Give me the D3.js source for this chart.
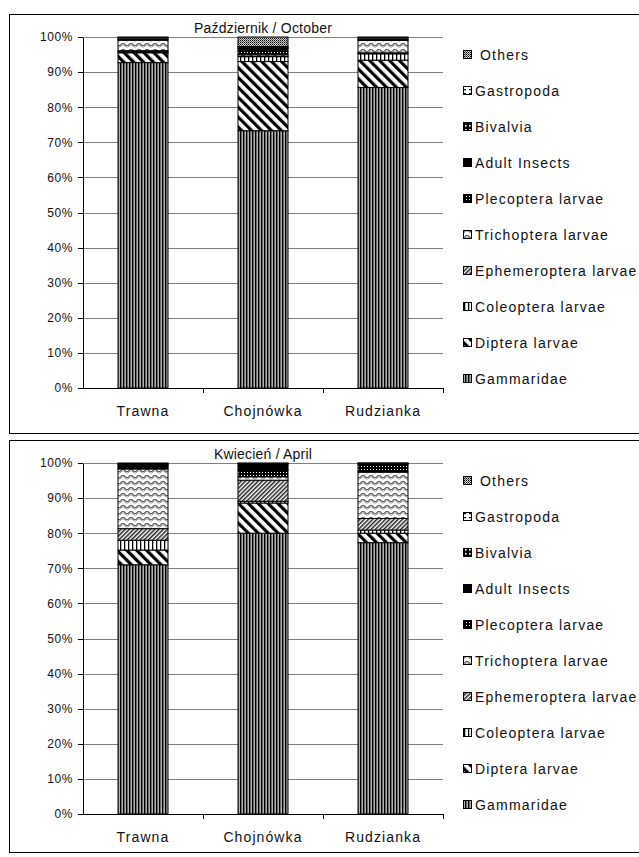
<!DOCTYPE html>
<html>
<head>
<meta charset="utf-8" />
<title>Macroinvertebrate composition</title>
<style>
  body { margin: 0; background: #fff; }
  svg { font-family: "Liberation Sans", Arial, sans-serif; }
  .grid line { stroke: #808080; stroke-width: 1px; shape-rendering: crispEdges; }
  .grid path { display: none; }
  .axis path, .axis line { stroke: #000; shape-rendering: crispEdges; }
  .axis text { font-size: 12px; fill: #111; letter-spacing: 0.6px; }
  .x.axis text { font-size: 14px; letter-spacing: 1.1px; }
  .legend text { font-size: 14px; letter-spacing: 1.2px; fill: #111; }
  .title { font-size: 14px; letter-spacing: 0.2px; fill: #111; }
</style>
</head>
<body>
<div id="chart"></div>
<script src="https://cdn.jsdelivr.net/npm/d3@7"></script>
<script>
// stacking order, bottom to top
var taxa = ["Gammaridae", "Diptera larvae", "Coleoptera larvae", "Ephemeroptera larvae",
            "Trichoptera larvae", "Plecoptera larvae", "Adult Insects", "Bivalvia", "Gastropoda", "Others"];
var sites = ["Trawna", "Chojnówka", "Rudzianka"];
var yTicks = [0, 10, 20, 30, 40, 50, 60, 70, 80, 90, 100];

// percentages per site, same order as taxa
var octTrawna     = [92.7, 2.8, 0.3, 0.3, 3.0, 0.0, 0.2, 0.0, 0.4, 0.3];
var octChojnowka  = [73.3, 19.7, 1.4, 0.2, 0.5, 0.8, 0.8, 0.3, 0.3, 2.7];
var octRudzianka  = [85.6, 7.8, 1.8, 0.3, 3.5, 0.0, 0.3, 0.0, 0.4, 0.3];

var aprTrawna     = [71.0, 4.2, 2.8, 3.3, 17.0, 0.5, 0.5, 0.3, 0.2, 0.2];
var aprChojnowka  = [80.0, 8.6, 0.5, 6.0, 1.0, 2.0, 1.2, 0.5, 0.1, 0.1];
var aprRudzianka  = [77.3, 2.7, 0.9, 3.3, 13.2, 2.2, 0.2, 0.1, 0.05, 0.05];

var panels = [
  { title: "Październik / October", top: 14, height: 419, values: [octTrawna, octChojnowka, octRudzianka] },
  { title: "Kwiecień / April",       top: 440, height: 412, values: [aprTrawna, aprChojnowka, aprRudzianka] }
];

var width = 639, height = 857;
var plotLeft = 83, plotRight = 443, plotH = 351, plotOffset = 23;

var svg = d3.select("#chart").append("svg")
    .attr("width", width)
    .attr("height", height);

// ---- fill patterns ----
var defs = svg.append("defs");
function pat(id, w, h, transform) {
  var p = defs.append("pattern").attr("id", id)
      .attr("patternUnits", "userSpaceOnUse")
      .attr("width", w).attr("height", h);
  if (transform) p.attr("patternTransform", transform);
  return p;
}
var p;
// Gammaridae: dense vertical lines, dark grey overall
p = pat("p0", 3, 3);
p.append("rect").attr("width", 3).attr("height", 3).attr("fill", "#b0b0b0");
p.append("rect").attr("width", 1).attr("height", 3).attr("fill", "#000");
p.append("rect").attr("x", 1).attr("width", 1).attr("height", 3).attr("fill", "#6a6a6a");
// Diptera: wide backslash stripes
p = pat("p1", 7, 7, "rotate(-45)");
p.append("rect").attr("width", 7).attr("height", 7).attr("fill", "#fff");
p.append("rect").attr("width", 3.2).attr("height", 7).attr("fill", "#000");
// Coleoptera: sparse vertical lines
p = pat("p2", 4, 4);
p.append("rect").attr("width", 4).attr("height", 4).attr("fill", "#fff");
p.append("rect").attr("width", 1.3).attr("height", 4).attr("fill", "#000");
// Ephemeroptera: fine slash stripes
p = pat("p3", 3, 3, "rotate(45)");
p.append("rect").attr("width", 3).attr("height", 3).attr("fill", "#fff");
p.append("rect").attr("width", 1.5).attr("height", 3).attr("fill", "#222");
// Trichoptera: zigzag waves
p = pat("p4", 8, 6);
p.append("rect").attr("width", 8).attr("height", 6).attr("fill", "#fff");
p.append("path").attr("d", "M0,3.5 L2,1.5 L4,1.5 L6,3.5 L8,3.5")
  .attr("fill", "none").attr("stroke", "#5e5e5e").attr("stroke-width", 1.2);
p.append("path").attr("d", "M0,5 L2,3 L4,3 L6,5 L8,5")
  .attr("fill", "none").attr("stroke", "#909090").attr("stroke-width", 0.9);
// Plecoptera: black with dense white dots
p = pat("p5", 3, 3);
p.append("rect").attr("width", 3).attr("height", 3).attr("fill", "#000");
p.append("rect").attr("x", 1).attr("y", 1).attr("width", 1).attr("height", 1).attr("fill", "#fff");
// Adult insects: solid black -> plain fill
// Bivalvia: white squares on black
p = pat("p7", 4, 4);
p.append("rect").attr("width", 4).attr("height", 4).attr("fill", "#000");
p.append("rect").attr("x", 1).attr("y", 1).attr("width", 1.6).attr("height", 1.6).attr("fill", "#fff");
// Gastropoda: white with small dashes
p = pat("p8", 6, 4);
p.append("rect").attr("width", 6).attr("height", 4).attr("fill", "#fff");
p.append("rect").attr("x", 1).attr("y", 1).attr("width", 3).attr("height", 1.2).attr("fill", "#000");
// Others: fine checker grey
p = pat("p9", 2, 2);
p.append("rect").attr("width", 2).attr("height", 2).attr("fill", "#d0d0d0");
p.append("rect").attr("width", 1).attr("height", 1).attr("fill", "#000");
p.append("rect").attr("x", 1).attr("y", 1).attr("width", 1).attr("height", 1).attr("fill", "#555");

var fills = ["url(#p0)", "url(#p1)", "url(#p2)", "url(#p3)", "url(#p4)",
             "url(#p5)", "#000", "url(#p7)", "url(#p8)", "url(#p9)"];

var x = d3.scaleBand().domain(sites).range([plotLeft, plotRight]).padding(0);
var barW = 50;

panels.forEach(function(panel) {
  var y0 = panel.top + plotOffset;
  var y = d3.scaleLinear().domain([0, 100]).range([y0 + plotH, y0]);

  svg.append("rect")
      .attr("x", 9.5).attr("y", panel.top + 0.5)
      .attr("width", 660).attr("height", panel.height)
      .attr("fill", "none").attr("stroke", "#000");

  var g = svg.append("g");

  g.append("g")
      .attr("class", "grid")
      .attr("transform", "translate(" + plotLeft + ",0)")
      .call(d3.axisRight(y).tickValues(yTicks.slice(1)).tickSize(plotRight - plotLeft).tickFormat(""));

  // stacked segments
  var stack = panel.values.map(function(vals, i) {
    var acc = 0;
    return vals.map(function(v, k) {
      var s = { site: sites[i], k: k, lo: acc, hi: acc + v };
      acc += v;
      return s;
    });
  });

  stack.forEach(function(segs) {
    g.selectAll(null)
      .data(segs.filter(function(s) { return s.hi > s.lo; }))
      .enter().append("rect")
        .attr("x", function(s) { return x(s.site) + (x.bandwidth() - barW) / 2; })
        .attr("width", barW)
        .attr("y", function(s) { return y(Math.min(s.hi, 100)); })
        .attr("height", function(s) { return y(s.lo) - y(Math.min(s.hi, 100)); })
        .attr("fill", function(s) { return fills[s.k]; })
        .attr("stroke", "#000")
        .attr("stroke-width", 1);
  });

  // y axis
  g.append("g")
      .attr("class", "axis")
      .attr("transform", "translate(" + plotLeft + ",0)")
      .call(d3.axisLeft(y).tickValues(yTicks).tickSize(5).tickSizeOuter(0)
            .tickFormat(function(d) { return d + "%"; }))
      .selectAll("text").attr("dx", "-2");

  // x axis with ticks between categories
  var xa = g.append("g")
      .attr("class", "x axis")
      .attr("transform", "translate(0," + y(0) + ")");
  xa.append("line").attr("x1", plotLeft).attr("x2", plotRight).attr("stroke", "#000");
  xa.selectAll(".sep")
    .data(sites)
    .enter().append("line")
      .attr("x1", function(d) { return x(d) + x.bandwidth(); })
      .attr("x2", function(d) { return x(d) + x.bandwidth(); })
      .attr("y1", 0).attr("y2", 5)
      .attr("stroke", "#000");
  xa.selectAll("text")
    .data(sites)
    .enter().append("text")
      .attr("x", function(d) { return x(d) + x.bandwidth() / 2; })
      .attr("y", 28)
      .attr("text-anchor", "middle")
      .text(function(d) { return d; });

  svg.append("text")
      .attr("class", "title")
      .attr("x", (plotLeft + plotRight) / 2)
      .attr("y", y0 - 4)
      .attr("text-anchor", "middle")
      .text(panel.title);

  // legend, top to bottom = reverse stack
  var leg = svg.append("g").attr("class", "legend");
  var order = taxa.slice().reverse();
  order.forEach(function(name, i) {
    var k = taxa.indexOf(name);
    var cy = y0 + 17.5 + i * 36;
    leg.append("rect")
        .attr("x", 463.5).attr("y", cy - 4)
        .attr("width", 8).attr("height", 8)
        .attr("fill", fills[k]).attr("stroke", "#000");
    leg.append("text")
        .attr("x", name === "Others" ? 480 : 475)
        .attr("y", cy + 5)
        .text(name);
  });
});
</script>
</body>
</html>
